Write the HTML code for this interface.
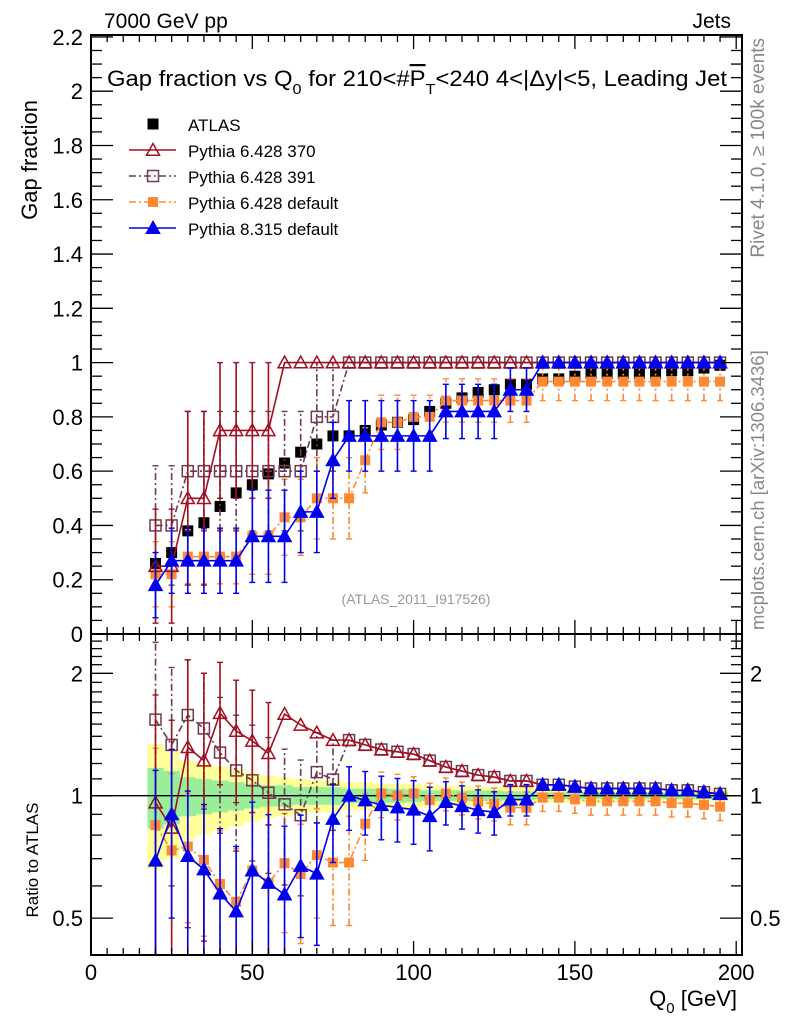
<!DOCTYPE html>
<html><head><meta charset="utf-8"><style>
html,body{margin:0;padding:0;background:#fff;}
svg{display:block;font-family:"Liberation Sans",sans-serif;}
</style></head><body>
<svg id="c" width="786" height="1024" viewBox="0 0 786 1024" xmlns="http://www.w3.org/2000/svg">
<rect width="786" height="1024" fill="#fff"/>
<text x="104" y="28" font-size="21">7000 GeV pp</text>
<text x="731" y="28" font-size="21" text-anchor="end">Jets</text>
<text x="107" y="86" font-size="22" textLength="620" lengthAdjust="spacingAndGlyphs">Gap fraction vs Q<tspan font-size="15" dy="8">0</tspan><tspan dy="-8"> for 210&lt;#</tspan><tspan text-decoration="overline">P</tspan><tspan font-size="15" dy="8">T</tspan><tspan dy="-8">&lt;240  4&lt;|Δy|&lt;5, Leading Jet</tspan></text>
<text transform="translate(37,100) rotate(-90)" font-size="22" text-anchor="end">Gap fraction</text>
<text transform="translate(38,860) rotate(-90)" font-size="17" text-anchor="middle">Ratio to ATLAS</text>
<text x="737" y="1006" font-size="22" text-anchor="end">Q<tspan font-size="15" dy="7">0</tspan><tspan dy="-7"> [GeV]</tspan></text>
<text transform="translate(764,38) rotate(-90)" font-size="19" fill="#888" text-anchor="end">Rivet 4.1.0, ≥ 100k events</text>
<text transform="translate(764,630) rotate(-90)" font-size="18.5" fill="#888">mcplots.cern.ch [arXiv:1306.3436]</text>
<text x="416" y="604" font-size="14" fill="#999" text-anchor="middle">(ATLAS_2011_I917526)</text>
<g id="g"></g>
</svg>
<script>
const xs=[20,25,30,35,40,45,50,55,60,65,70,75,80,85,90,95,100,105,110,115,120,125,130,135,140,145,150,155,160,165,170,175,180,185,190,195];
const atlas=[0.26,0.30,0.38,0.41,0.47,0.52,0.55,0.59,0.63,0.67,0.70,0.73,0.73,0.75,0.77,0.78,0.79,0.82,0.85,0.87,0.89,0.90,0.92,0.92,0.94,0.94,0.95,0.96,0.96,0.96,0.96,0.96,0.97,0.97,0.98,0.99];
const yellowBand=[0.34,0.3,0.22,0.2,0.18,0.16,0.14,0.12,0.11,0.1,0.09,0.09,0.08,0.08,0.07,0.07,0.07,0.06,0.06,0.06,0.05,0.05,0.05,0.05,0.04,0.04,0.04,0.04,0.04,0.03,0.03,0.03,0.03,0.03,0.03,0.03];
const greenBand=[0.17,0.15,0.11,0.1,0.09,0.08,0.07,0.06,0.06,0.05,0.05,0.05,0.04,0.04,0.04,0.04,0.035,0.03,0.03,0.03,0.03,0.03,0.025,0.025,0.02,0.02,0.02,0.02,0.02,0.02,0.02,0.02,0.02,0.02,0.02,0.02];
const p370=[0.25,0.25,0.5,0.5,0.75,0.75,0.75,0.75,1,1,1,1,1,1,1,1,1,1,1,1,1,1,1,1,1,1,1,1,1,1,1,1,1,1,1,1];
const p370Err=[0.21,0.21,0.32,0.32,0.25,0.25,0.25,0.25,0,0,0,0,0,0,0,0,0,0,0,0,0,0,0,0,0,0,0,0,0,0,0,0,0,0,0,0];
const p391=[0.4,0.4,0.6,0.6,0.6,0.6,0.6,0.6,0.6,0.6,0.8,0.8,1,1,1,1,1,1,1,1,1,1,1,1,1,1,1,1,1,1,1,1,1,1,1,1];
const p391Err=[0.22,0.22,0.22,0.22,0.22,0.22,0.22,0.22,0.22,0.22,0.2,0.2,0,0,0,0,0,0,0,0,0,0,0,0,0,0,0,0,0,0,0,0,0,0,0,0];
const p6def=[0.22,0.22,0.285,0.285,0.285,0.285,0.36,0.36,0.43,0.43,0.5,0.5,0.5,0.64,0.78,0.78,0.8,0.8,0.86,0.86,0.86,0.86,0.86,0.86,0.93,0.93,0.93,0.93,0.93,0.93,0.93,0.93,0.93,0.93,0.93,0.93];
const p6defErr=[0.12,0.12,0.1,0.1,0.1,0.1,0.14,0.14,0.14,0.14,0.15,0.15,0.15,0.12,0.1,0.1,0.08,0.08,0.08,0.08,0.08,0.08,0.08,0.08,0.07,0.07,0.07,0.07,0.07,0.07,0.07,0.07,0.07,0.07,0.07,0.07];
const p8=[0.18,0.27,0.27,0.27,0.27,0.27,0.36,0.36,0.36,0.45,0.45,0.64,0.73,0.73,0.73,0.73,0.73,0.73,0.82,0.82,0.82,0.82,0.9,0.9,1,1,1,1,1,1,1,1,1,1,1,1];
const p8Err=[0.12,0.12,0.12,0.12,0.12,0.12,0.17,0.17,0.17,0.15,0.15,0.14,0.13,0.13,0.13,0.13,0.13,0.13,0.1,0.1,0.1,0.1,0.08,0.08,0,0,0,0,0,0,0,0,0,0,0,0];
const yTicks=[0,0.2,0.4,0.6,0.8,1,1.2,1.4,1.6,1.8,2,2.2];
const yTickLabels=["0","0.2","0.4","0.6","0.8","1","1.2","1.4","1.6","1.8","2","2.2"];
const xTicks=[0,50,100,150,200];
const rTicks=[0.5,1,2];

const L=91,R=742,T=35,M=634,B=955;
const X=v=>L+v*(R-L)/201.8;
const Y=v=>M-v*271.4;
const RY=r=>795.7-Math.log2(r)*122.4;
const NS="http://www.w3.org/2000/svg";
const gRoot=document.getElementById('g');
function el(t,a,p){const e=document.createElementNS(NS,t);for(const k in a)e.setAttribute(k,a[k]);(p||gRoot).appendChild(e);return e;}
const defs=el('defs',{});
const c1=el('clipPath',{id:'ctop'},defs);el('rect',{x:L,y:T,width:R-L,height:M-T},c1);
const c2=el('clipPath',{id:'cbot'},defs);el('rect',{x:L,y:M,width:R-L,height:B-M},c2);
const topG=el('g',{'clip-path':'url(#ctop)'});


const botG=el('g',{'clip-path':'url(#cbot)'});


function band(arr,col,name){let up='',dn='';xs.forEach((x,i)=>{const a=X(x-2.5),b=X(x+2.5);up+=`${a},${RY(1+arr[i])} ${b},${RY(1+arr[i])} `;dn=`${b},${RY(1-arr[i])} ${a},${RY(1-arr[i])} `+dn;});const p=el('polygon',{points:up+dn,fill:col},botG);

}
band(yellowBand,'#ffff99','ratio-band-total');
band(greenBand,'#99ee99','ratio-band-stat');
const one=el('line',{x1:L,x2:R,y1:RY(1),y2:RY(1),stroke:'#000','stroke-width':1.3},botG);


function marker(parent,type,x,y,col,name){let m;
 if(type==='tri'||type==='trio'){const s=6.5;m=el('polygon',{points:`${x},${y-s} ${x+s},${y+s*0.8} ${x-s},${y+s*0.8}`,fill:type==='tri'?col:'none',stroke:col,'stroke-width':1.5},parent);}
 else if(type==='sq'){m=el('rect',{x:x-5.5,y:y-5.5,width:11,height:11,fill:col},parent);}
 else if(type==='sqs'){m=el('rect',{x:x-5,y:y-5,width:10,height:10,fill:col},parent);}
 else {m=el('rect',{x:x-5.5,y:y-5.5,width:11,height:11,fill:'none',stroke:col,'stroke-width':1.5},parent);}
 
 }
const series=[
 {v:p6def,e:p6defErr,col:'#ff8833',dash:'7,3,2,3',mk:'sqs',name:'pythia6-default'},
 {v:p391,e:p391Err,col:'#6e3a50',dash:'7,3,2,3',mk:'sqo',name:'pythia6-391'},
 {v:p370,e:p370Err,col:'#a01020',dash:'',mk:'trio',name:'pythia6-370'},
 {v:p8,e:p8Err,col:'#0000ee',dash:'',mk:'tri',name:'pythia8-default'}];
xs.forEach((x,i)=>marker(topG,'sq',X(x),Y(atlas[i]),'#000','atlas-point'));
series.forEach(s=>{
 const gt=el('g',{},topG);
 
 
 const gb=el('g',{},botG);
 
 
 const pl=el('polyline',{points:xs.map((x,i)=>`${X(x)},${Y(s.v[i])}`).join(' '),fill:'none',stroke:s.col,'stroke-width':1.6,'stroke-dasharray':s.dash},gt);
 
 
 const pr=el('polyline',{points:xs.map((x,i)=>`${X(x)},${RY(s.v[i]/atlas[i])}`).join(' '),fill:'none',stroke:s.col,'stroke-width':1.6,'stroke-dasharray':s.dash},gb);
 
 
 xs.forEach((x,i)=>{
  if(s.e[i]>0){
   const lo=Math.max(s.v[i]-s.e[i],0.001),hi=s.v[i]+s.e[i];
   const b1=el('line',{x1:X(x),x2:X(x),y1:Y(lo),y2:Y(hi),stroke:s.col,'stroke-width':1.6,'stroke-dasharray':s.dash},gt);
   
   
   [lo,hi].forEach(v=>{const c=el('line',{x1:X(x)-3,x2:X(x)+3,y1:Y(v),y2:Y(v),stroke:s.col,'stroke-width':1.4},gt);
    
    });
   const rl=Math.max(lo/atlas[i],0.3),rh=hi/atlas[i];
   const b2=el('line',{x1:X(x),x2:X(x),y1:RY(rl),y2:RY(rh),stroke:s.col,'stroke-width':1.6,'stroke-dasharray':s.dash},gb);
   
   
   [rl,rh].forEach(v=>{const c=el('line',{x1:X(x)-3,x2:X(x)+3,y1:RY(v),y2:RY(v),stroke:s.col,'stroke-width':1.4},gb);
    
    });
  }
  marker(gt,s.mk,X(x),Y(s.v[i]),s.col,s.name+'-point');
  marker(gb,s.mk,X(x),RY(s.v[i]/atlas[i]),s.col,s.name+'-ratio-point');
 });
});
[[T,M],[M,B]].forEach(([a,b],k)=>{const f=el('rect',{x:L,y:a,width:R-L,height:b-a,fill:'none',stroke:'#000','stroke-width':2});
 
 });
for(let v=0;v<=200;v+=5){const big=v%50===0,len=big?14:7;
 [[M,-1],[T,1],[B,-1],[M,1]].forEach(([y0,d])=>el('line',{x1:X(v),x2:X(v),y1:y0,y2:y0+d*len,stroke:'#000','stroke-width':1.3}));}
xTicks.forEach(v=>{const t=el('text',{x:X(v),y:980,'font-size':22,'text-anchor':'middle'});t.textContent=String(v);
 
 });
for(let k=0;k<=44;k++){const v=k*0.05,big=k%4===0,len=big?22:11;
 el('line',{x1:L,x2:L+len,y1:Y(v),y2:Y(v),stroke:'#000','stroke-width':1.3});
 el('line',{x1:R,x2:R-len,y1:Y(v),y2:Y(v),stroke:'#000','stroke-width':1.3});}
yTicks.forEach((v,i)=>{const t=el('text',{x:83,y:Y(v)+8,'font-size':22,'text-anchor':'end'});t.textContent=yTickLabels[i];
 
 });
for(let k=4;k<=25;k++){const rr=k/10;const big=rTicks.includes(rr);const len=big?22:11;const y=RY(rr);if(y<M||y>B)continue;
 el('line',{x1:L,x2:L+len,y1:y,y2:y,stroke:'#000','stroke-width':1.3});el('line',{x1:R,x2:R-len,y1:y,y2:y,stroke:'#000','stroke-width':1.3});}
rTicks.forEach(v=>{[[83,'end'],[750,'start']].forEach(([x,a])=>{const t=el('text',{x:x,y:RY(v)+8,'font-size':22,'text-anchor':a});t.textContent=String(v);
 
 });});
const leg=el('g',{});


const entries=[{t:'ATLAS',col:'#000',mk:'sq',dash:null},{t:'Pythia 6.428 370',col:'#a01020',mk:'trio',dash:''},{t:'Pythia 6.428 391',col:'#6e3a50',mk:'sqo',dash:'7,3,2,3'},{t:'Pythia 6.428 default',col:'#ff8833',mk:'sqs',dash:'7,3,2,3'},{t:'Pythia 8.315 default',col:'#0000ee',mk:'tri',dash:''}];
entries.forEach((e,i)=>{const y=124+i*26;const ge=el('g',{},leg);
 
 
 if(e.dash!==null)el('line',{x1:129,x2:176,y1:y,y2:y,stroke:e.col,'stroke-width':1.6,'stroke-dasharray':e.dash},ge);
 marker(ge,e.mk,153,y,e.col,'legend-marker');
 const t=el('text',{x:188,y:y+7,'font-size':17},ge);t.textContent=e.t;
 
 });
</script>
</body></html>
